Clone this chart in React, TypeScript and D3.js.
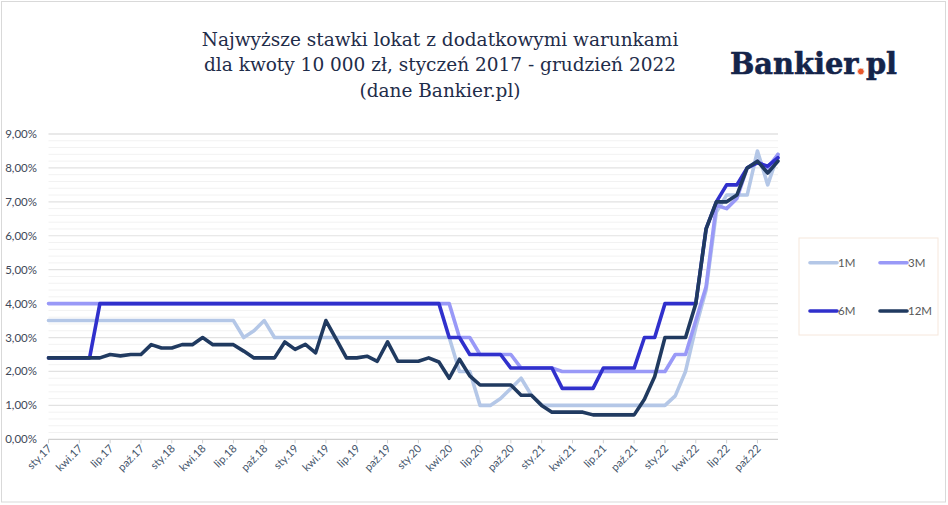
import React, { useEffect, useRef, useState } from "react";
import * as d3 from "d3";

const months = ["sty", "lut", "mar", "kwi", "maj", "cze", "lip", "sie", "wrz", "paź", "lis", "gru"];
const years = ["17", "18", "19", "20", "21", "22"];
const categories = years.flatMap((y) => months.map((m) => `${m}.${y}`));
const shownLabels = ["sty", "kwi", "lip", "paź"];

const s1M = [
	3.5, 3.5, 3.5, 3.5, 3.5, 3.5, 3.5, 3.5, 3.5, 3.5, 3.5, 3.5,
	3.5, 3.5, 3.5, 3.5, 3.5, 3.5, 3.5, 3.0, 3.2, 3.5, 3.0, 3.0,
	3.0, 3.0, 3.0, 3.0, 3.0, 3.0, 3.0, 3.0, 3.0, 3.0, 3.0, 3.0,
	3.0, 3.0, 3.0, 3.0, 2.0, 2.0, 1.0, 1.0, 1.2, 1.5, 1.8, 1.3,
	1.0, 1.0, 1.0, 1.0, 1.0, 1.0, 1.0, 1.0, 1.0, 1.0, 1.0, 1.0,
	1.0, 1.28, 2.0, 3.3, 4.4, 6.7, 7.2, 7.2, 7.2, 8.5, 7.5, 8.4,
];
const s3M = [
	4.0, 4.0, 4.0, 4.0, 4.0, 4.0, 4.0, 4.0, 4.0, 4.0, 4.0, 4.0,
	4.0, 4.0, 4.0, 4.0, 4.0, 4.0, 4.0, 4.0, 4.0, 4.0, 4.0, 4.0,
	4.0, 4.0, 4.0, 4.0, 4.0, 4.0, 4.0, 4.0, 4.0, 4.0, 4.0, 4.0,
	4.0, 4.0, 4.0, 4.0, 3.0, 3.0, 2.5, 2.5, 2.5, 2.5, 2.1, 2.1,
	2.1, 2.1, 2.0, 2.0, 2.0, 2.0, 2.0, 2.0, 2.0, 2.0, 2.0, 2.0,
	2.0, 2.5, 2.5, 3.5, 4.5, 6.9, 6.8, 7.1, 8.0, 8.2, 8.0, 8.4,
];
const s6M = [
	2.4, 2.4, 2.4, 2.4, 2.4, 4.0, 4.0, 4.0, 4.0, 4.0, 4.0, 4.0,
	4.0, 4.0, 4.0, 4.0, 4.0, 4.0, 4.0, 4.0, 4.0, 4.0, 4.0, 4.0,
	4.0, 4.0, 4.0, 4.0, 4.0, 4.0, 4.0, 4.0, 4.0, 4.0, 4.0, 4.0,
	4.0, 4.0, 4.0, 3.0, 3.0, 2.5, 2.5, 2.5, 2.5, 2.1, 2.1, 2.1,
	2.1, 2.1, 1.5, 1.5, 1.5, 1.5, 2.1, 2.1, 2.1, 2.1, 3.0, 3.0,
	4.0, 4.0, 4.0, 4.0, 6.2, 7.0, 7.5, 7.5, 8.0, 8.15, 8.05, 8.3,
];
const s12M = [
	2.4, 2.4, 2.4, 2.4, 2.4, 2.4, 2.5, 2.46, 2.5, 2.5, 2.79, 2.69,
	2.69, 2.79, 2.79, 3.0, 2.79, 2.79, 2.79, 2.6, 2.4, 2.4, 2.4, 2.87,
	2.65, 2.8, 2.55, 3.5, 2.95, 2.4, 2.4, 2.45, 2.3, 2.87, 2.3, 2.3,
	2.3, 2.4, 2.28, 1.8, 2.36, 1.87, 1.6, 1.6, 1.6, 1.6, 1.3, 1.3,
	1.0, 0.8, 0.8, 0.8, 0.8, 0.72, 0.72, 0.72, 0.72, 0.72, 1.18, 1.85,
	3.0, 3.0, 3.0, 4.0, 6.2, 7.0, 7.0, 7.2, 8.0, 8.2, 7.85, 8.2,
];

const seriesNames = ["1M", "3M", "6M", "12M"];
const seriesValues = [s1M, s3M, s6M, s12M];
const seriesColors = ["#b4c7e7", "#9999f7", "#3030cc", "#203a60"];
const yTicks = [0, 1, 2, 3, 4, 5, 6, 7, 8, 9];
const titleLines = [
	"Najwyższe stawki lokat z dodatkowymi warunkami",
	"dla kwoty 10 000 zł, styczeń 2017 - grudzień 2022",
	"(dane Bankier.pl)",
];
const logoText = "Bankier.pl";

const W = 948;
const H = 505;
const sans = "Lato, 'Open Sans', sans-serif";

export default function App() {
	const logoRef = useRef<SVGTextElement>(null);
	const [dot, setDot] = useState<{ cx: number; w: number } | null>(null);

	useEffect(() => {
		// find the period in the logo so it can be painted orange
		const el = logoRef.current;
		if (!el) return;
		const k = logoText.indexOf(".");
		const ext = el.getExtentOfChar(k);
		setDot({ cx: ext.x + ext.width / 2, w: ext.width });
	}, []);

	const x = d3.scaleLinear().domain([0, categories.length - 1]).range([48.5, 778]);
	const y = d3.scaleLinear().domain([0, 9]).range([439.3, 134]);
	const line = d3
		.line<number>()
		.x((_, i) => x(i))
		.y((d) => y(d));

	const minorTicks = d3.range(0, 9.01, 0.2).filter((v) => Math.abs(v - Math.round(v)) > 0.01);
	const fmt = (v: number) => v.toFixed(2).replace(".", ",") + "%";
	const labelIdx = categories.map((c, i) => i).filter((i) => shownLabels.includes(categories[i].split(".")[0]));

	const legendPos = [
		{ lx: 810, ly: 262.7 },
		{ lx: 880, ly: 262.7 },
		{ lx: 810, ly: 311 },
		{ lx: 880, ly: 311 },
	];

	return (
		<svg width={W} height={H} style={{ position: "absolute", left: 0, top: 0, background: "#fff" }}>
			<rect x={1.5} y={1.5} width={944} height={500.5} fill="#fff" stroke="#d9d9d9" />

			{/* title */}
			<g fontFamily="'DejaVu Serif', serif" fontSize={18.5} fill="#1f2d4a" textAnchor="middle">
				{titleLines.map((t, i) => (
					<text key={i} x={440} y={45.5 + i * 25.6}>
						{t}
					</text>
				))}
			</g>

			{/* logo */}
			<text ref={logoRef} x={730} y={74} fontFamily="'DejaVu Serif', serif" fontWeight="bold" fontSize={30} fill="#14244a" textLength={167} lengthAdjust="spacingAndGlyphs" stroke="#14244a" strokeWidth={0.6}>
				{logoText}
			</text>
			{dot && <circle cx={dot.cx} cy={71.5} r={3.4} fill="#e8562a" stroke="#fff" strokeWidth={0.8} />}

			{/* grid */}
			{minorTicks.map((v) => (
				<line key={"m" + v} x1={x(0)} x2={x(71)} y1={y(v)} y2={y(v)} stroke="#f2f2f2" strokeWidth={1} />
			))}
			{yTicks.map((v) => (
				<line key={"g" + v} x1={x(0)} x2={x(71)} y1={y(v)} y2={y(v)} stroke={v === 0 ? "#d0d0d0" : "#e2e2e2"} strokeWidth={v === 9 ? 1.6 : 1.2} />
			))}

			{/* y labels */}
			<g fontFamily={sans} fontSize={11.5} fill="#404858" textAnchor="end">
				{yTicks.map((v) => (
					<text key={v} x={37} y={y(v) + 4}>
						{fmt(v)}
					</text>
				))}
			</g>

			{/* x ticks + labels */}
			{labelIdx.map((i) => (
				<g key={i}>
					<line x1={x(i)} x2={x(i)} y1={y(0)} y2={y(0) + 4} stroke="#d0d0d0" />
					<text
						transform={`translate(${x(i) + 4},${y(0) + 10}) rotate(-45)`}
						textAnchor="end"
						fontFamily={sans}
						fontSize={11}
						fill="#44546a"
					>
						{categories[i]}
					</text>
				</g>
			))}

			{/* series */}
			{seriesValues.map((vals, k) => (
				<path key={k} d={line(vals) || ""} fill="none" stroke={seriesColors[k]} strokeWidth={3.6} strokeLinejoin="round" strokeLinecap="round" />
			))}

			{/* legend */}
			<rect x={799} y={238} width={139} height={97} fill="#fff" stroke="#f6e7dc" />
			{seriesNames.map((n, k) => (
				<g key={n}>
					<line x1={legendPos[k].lx} x2={legendPos[k].lx + 27} y1={legendPos[k].ly} y2={legendPos[k].ly} stroke={seriesColors[k]} strokeWidth={3.6} strokeLinecap="round" />
					<text x={legendPos[k].lx + 28} y={legendPos[k].ly + 4} fontFamily={sans} fontSize={11.5} fill="#595959">
						{n}
					</text>
				</g>
			))}
		</svg>
	);
}
